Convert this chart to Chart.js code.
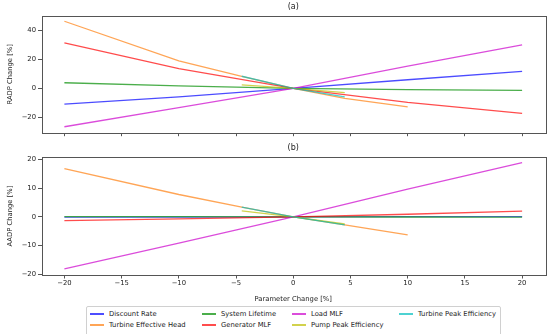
<!DOCTYPE html>
<html lang="en">
<head>
<meta charset="UTF-8">
<title>RADP / AADP sensitivity</title>
<script src="https://cdn.jsdelivr.net/npm/chart.js"></script>
<style>
    body { margin: 0; background: #fff; font-family: "DejaVu Sans", sans-serif; }
    #wrap { position: relative; width: 550px; height: 334px; overflow: hidden; }
    #topBox { position: absolute; left: 0; top: 0; width: 550px; height: 140px; }
    #botBox { position: absolute; left: 0; top: 140px; width: 550px; height: 166px; }
    #legend { position: absolute; left: 86px; top: 306px; width: 415px; height: 30px;
              border: 1px solid #d0d0d0; border-radius: 2px; box-sizing: border-box; }
    .item { position: absolute; font-size: 6.8px; color: #222; white-space: nowrap; line-height: 8px; }
    .item span.ln { position: absolute; left: -19px; top: 3px; width: 14px; height: 2px; }
</style>
</head>
<body>
<div id="wrap">
    <div id="topBox"><canvas id="topChart"></canvas></div>
    <div id="botBox"><canvas id="botChart"></canvas></div>
    <div id="legend"></div>
</div>
<script>
// parameter change positions
const xMain = [-20, -10, 0, 10, 20];
const xHead = [-20, -10, -4.5, 0, 4.5, 10];
const xEff = [-4.5, 0, 4.5];

const seriesNames = ['Discount Rate', 'Turbine Effective Head', 'System Lifetime', 'Generator MLF',
                     'Load MLF', 'Pump Peak Efficiency', 'Turbine Peak Efficiency'];
const seriesColors = ['rgba(0,0,255,0.7)', 'rgba(255,127,14,0.7)', 'rgba(44,160,44,0.85)', 'rgba(255,0,0,0.7)',
                      'rgba(204,0,204,0.7)', 'rgba(191,191,0,0.7)', 'rgba(0,191,191,0.7)'];
// same colours flattened on white, for the legend swatches
const legendColors = ['rgb(77,77,255)', 'rgb(255,165,86)', 'rgb(75,174,75)', 'rgb(255,77,77)',
                      'rgb(219,77,219)', 'rgb(210,210,77)', 'rgb(77,210,210)'];

// (a) RADP change [%]
const discountRadp = [-10.9, -5.8, 0, 6.0, 11.8];
const headRadp = [46.4, 19.0, 8.3, 0, -6.9, -12.7];
const lifetimeRadp = [3.9, 1.8, 0, -0.8, -1.4];
const generatorRadp = [31.4, 13.6, 0, -9.7, -17.2];
const loadRadp = [-26.5, -13.2, 0, 15.4, 30.1];
const pumpRadp = [2.5, 0, -2.9];
const turbineEffRadp = [8.4, 0, -5.9];

// (b) AADP change [%]
const discountAadp = [-0.1, -0.05, 0, 0.05, 0.05];
const headAadp = [16.8, 7.8, 3.4, 0, -2.8, -6.3];
const lifetimeAadp = [0.1, 0.05, 0, -0.05, -0.1];
const generatorAadp = [-1.3, -0.7, 0, 0.9, 2.0];
const loadAadp = [-18.2, -9.2, 0, 9.7, 18.9];
const pumpAadp = [2.1, 0, -2.5];
const turbineEffAadp = [3.4, 0, -2.8];

const xTicks = [-20, -15, -10, -5, 0, 5, 10, 15, 20];
const topYTicks = [-20, 0, 20, 40];
const botYTicks = [-20, -10, 0, 10, 20];

const fontFam = '"DejaVu Sans", sans-serif';
const fmt = v => (v < 0 ? '\u2212' + Math.abs(v) : String(v));

function pts(xs, ys) {
    return xs.map((x, i) => ({ x: x, y: ys[i] }));
}

function makeSets(vals) {
    const xs = [xMain, xHead, xMain, xMain, xMain, xEff, xEff];
    return vals.map((v, i) => ({
        label: seriesNames[i],
        data: pts(xs[i], v),
        borderColor: seriesColors[i],
        borderWidth: 1.3,
        pointRadius: 0,
        fill: false,
        tension: 0,
        order: -i
    }));
}

// full box around axes, like matplotlib spines
const frame = {
    id: 'frame',
    afterDatasetsDraw(chart) {
        const a = chart.chartArea, c = chart.ctx;
        c.save();
        c.strokeStyle = '#555';
        c.lineWidth = 1;
        c.strokeRect(Math.round(a.left) + 0.5, Math.round(a.top) + 0.5,
                     Math.round(a.right - a.left), Math.round(a.bottom - a.top));
        c.restore();
    }
};

function opts(title, yLabel, yMin, yMax, yTicks, showX, titlePad, xHeight) {
    return {
        responsive: true,
        maintainAspectRatio: false,
        animation: false,
        layout: { padding: { left: 0, right: 5, top: 0, bottom: 0 } },
        plugins: {
            legend: { display: false },
            tooltip: { enabled: false },
            title: { display: true, text: title, fullSize: false, color: '#222',
                     font: { family: fontFam, size: 8, weight: 'normal' }, padding: titlePad }
        },
        scales: {
            x: {
                type: 'linear', min: -22, max: 22,
                afterBuildTicks: s => { s.ticks = xTicks.map(v => ({ value: v })); },
                afterFit: s => { s.height = xHeight; },
                grid: { display: true, drawOnChartArea: false, drawTicks: true, tickLength: 3.5, color: '#555' },
                border: { display: false },
                ticks: { display: showX, color: '#222', padding: 1, maxRotation: 0,
                         font: { family: fontFam, size: 6.8 }, callback: v => fmt(v) },
                title: { display: showX, text: 'Parameter Change [%]', color: '#222',
                         font: { family: fontFam, size: 6.8 }, padding: { top: 0, bottom: 3 } }
            },
            y: {
                min: yMin, max: yMax,
                afterBuildTicks: s => { s.ticks = yTicks.map(v => ({ value: v })); },
                afterFit: s => { s.width = 41.5; },
                grid: { display: true, drawOnChartArea: false, drawTicks: true, tickLength: 3.5, color: '#555' },
                border: { display: false },
                ticks: { color: '#222', padding: 2, font: { family: fontFam, size: 6.8 }, callback: v => fmt(v) },
                title: { display: true, text: yLabel, color: '#222',
                         font: { family: fontFam, size: 6.8 }, padding: { top: 6, bottom: 0 } }
            }
        }
    };
}

new Chart(document.getElementById('topChart'), {
    type: 'line',
    data: { datasets: makeSets([discountRadp, headRadp, lifetimeRadp, generatorRadp, loadRadp, pumpRadp, turbineEffRadp]) },
    options: opts('(a)', 'RADP Change [%]', -30.6, 50.1, topYTicks, false, { top: 2.5, bottom: 3.8 }, 7.3),
    plugins: [frame]
});

new Chart(document.getElementById('botChart'), {
    type: 'line',
    data: { datasets: makeSets([discountAadp, headAadp, lifetimeAadp, generatorAadp, loadAadp, pumpAadp, turbineEffAadp]) },
    options: opts('(b)', 'AADP Change [%]', -20.3, 20.85, botYTicks, true, { top: 3.5, bottom: 4 }, 31),
    plugins: [frame]
});

// legend, matplotlib style: 4 columns, filled column by column
const legendPos = [[22, 3], [22, 14], [134, 3], [134, 14], [224, 3], [224, 14], [331, 3]];
const lg = document.getElementById('legend');
seriesNames.forEach((name, i) => {
    const d = document.createElement('div');
    d.className = 'item';
    d.style.left = legendPos[i][0] + 'px';
    d.style.top = legendPos[i][1] + 'px';
    d.innerHTML = '<span class="ln" style="background:' + legendColors[i] + '"></span>' + name;
    lg.appendChild(d);
});
</script>
</body>
</html>
